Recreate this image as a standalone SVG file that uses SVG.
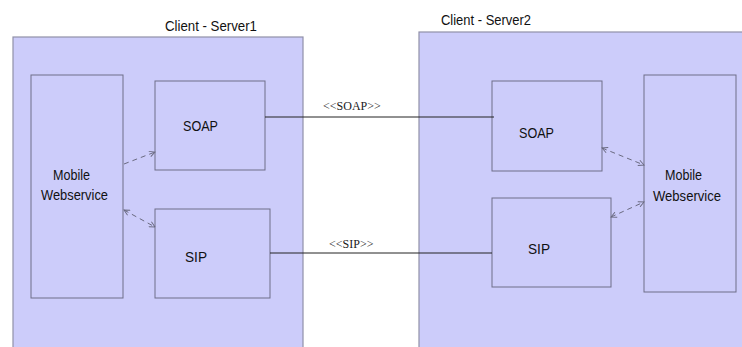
<svg xmlns="http://www.w3.org/2000/svg" width="742" height="347" viewBox="0 0 742 347">
<defs>
<style>
.outer{fill:#ccccfa;stroke:#9090a8;stroke-width:1.2}
.box{fill:#ccccfa;stroke:#6e6e88;stroke-width:1}
.t{font-family:"Liberation Sans",Arial,sans-serif;font-size:15.5px;fill:#111}
.s{font-family:"Liberation Serif","Times New Roman",serif;font-size:12px;fill:#1a1a1a}
.dash{stroke:#6a6a80;stroke-width:1;stroke-dasharray:5,4;fill:none}
.solid{stroke:#222;stroke-width:1;fill:none}
</style>
<marker id="ah" viewBox="0 0 10 10" refX="9" refY="5" markerWidth="7" markerHeight="7" orient="auto-start-reverse" markerUnits="userSpaceOnUse">
<path d="M1,1 L9,5 L1,9" fill="none" stroke="#6a6a80" stroke-width="1.3"/>
</marker>
</defs>
<rect width="742" height="347" fill="#ffffff"/>
<g id="server1">
<rect class="outer" x="13" y="37" width="290" height="320"/>
<text class="t" x="165" y="31" textLength="92" lengthAdjust="spacingAndGlyphs">Client -  Server1</text>
</g>
<g id="server2">
<rect class="outer" x="419" y="32" width="330" height="325"/>
<text class="t" x="441" y="25" textLength="90" lengthAdjust="spacingAndGlyphs">Client - Server2</text>
</g>
<g id="mobile1">
<rect class="box" x="31" y="75" width="92" height="223"/>
<text class="t" x="53" y="180" textLength="37" lengthAdjust="spacingAndGlyphs">Mobile</text>
<text class="t" x="41" y="200" textLength="67" lengthAdjust="spacingAndGlyphs">Webservice</text>
</g>
<g id="soap1">
<rect class="box" x="155" y="81" width="110" height="89"/>
<text class="t" x="183" y="131" textLength="35" lengthAdjust="spacingAndGlyphs">SOAP</text>
</g>
<g id="sip1">
<rect class="box" x="155" y="209" width="115" height="89"/>
<text class="t" x="185" y="262" textLength="22" lengthAdjust="spacingAndGlyphs">SIP</text>
</g>
<g id="soap2">
<rect class="box" x="492" y="81" width="110" height="90"/>
<text class="t" x="519" y="138" textLength="35" lengthAdjust="spacingAndGlyphs">SOAP</text>
</g>
<g id="sip2">
<rect class="box" x="492" y="198" width="119" height="89"/>
<text class="t" x="528" y="254" textLength="22" lengthAdjust="spacingAndGlyphs">SIP</text>
</g>
<g id="mobile2">
<rect class="box" x="644" y="75" width="92" height="217"/>
<text class="t" x="665" y="180" textLength="37" lengthAdjust="spacingAndGlyphs">Mobile</text>
<text class="t" x="653" y="201" textLength="68" lengthAdjust="spacingAndGlyphs">Webservice</text>
</g>
<g id="connectors">
<line class="solid" x1="265" y1="117" x2="494" y2="117"/>
<text class="s" x="323" y="110">&lt;&lt;SOAP&gt;&gt;</text>
<line class="solid" x1="270" y1="253" x2="492" y2="253"/>
<text class="s" x="329" y="248">&lt;&lt;SIP&gt;&gt;</text>
<line class="dash" x1="124" y1="164" x2="155" y2="152" marker-end="url(#ah)"/>
<line class="dash" x1="124" y1="210" x2="155" y2="227" marker-start="url(#ah)" marker-end="url(#ah)"/>
<line class="dash" x1="602" y1="148" x2="644" y2="165" marker-start="url(#ah)" marker-end="url(#ah)"/>
<line class="dash" x1="611" y1="217" x2="644" y2="202" marker-start="url(#ah)" marker-end="url(#ah)"/>
</g>
</svg>
